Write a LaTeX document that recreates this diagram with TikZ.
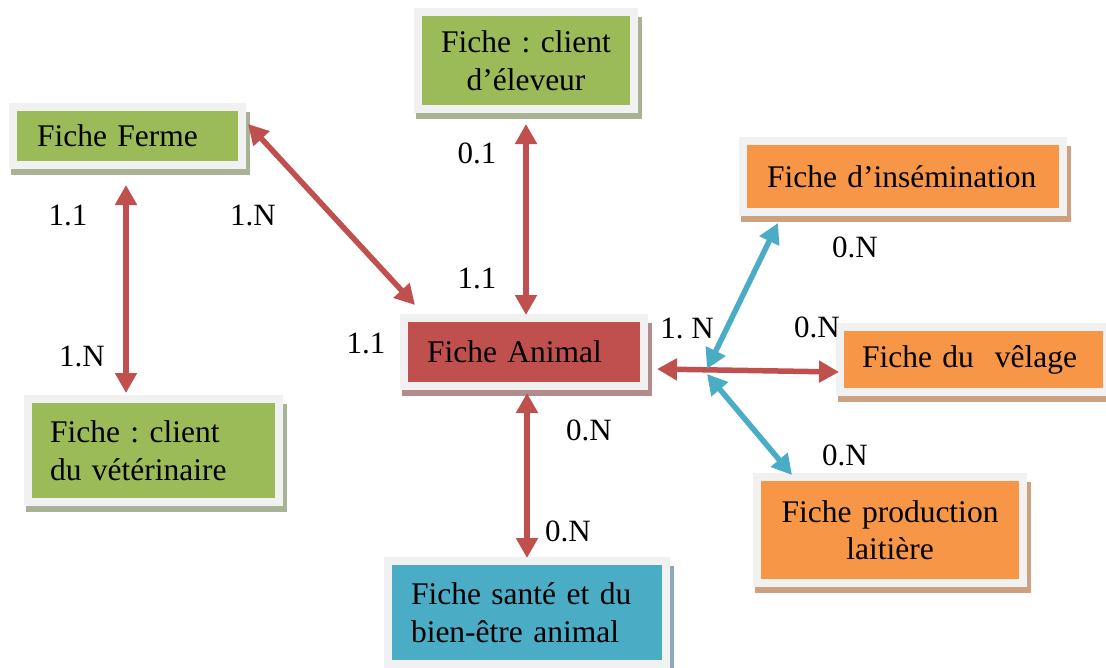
\documentclass[tikz,border=0pt]{standalone}
\usepackage{fontspec}
\setmainfont{Liberation Serif}
\usetikzlibrary{arrows.meta,backgrounds,calc}
\definecolor{cgreen}{HTML}{9BBB59}
\definecolor{cred}{HTML}{C0504D}
\definecolor{corange}{HTML}{F79646}
\definecolor{cblue}{HTML}{4BACC6}
\definecolor{cframe}{HTML}{F1F1F1}
\definecolor{gshadow}{HTML}{A8B295}
\definecolor{rshadow}{HTML}{B48B8B}
\definecolor{oshadow}{HTML}{CDA07F}
\definecolor{bshadow}{HTML}{8CA9B4}
\frenchspacing
\tikzset{
  box/.style={rectangle, draw=cframe, line width=8pt, inner sep=0pt, outer sep=0pt,
    font=\fontsize{31.5}{37.5}\selectfont, align=left},
  gbox/.style={box, fill=cgreen},
  rbox/.style={box, fill=cred},
  obox/.style={box, fill=corange},
  bbox/.style={box, fill=cblue},
  lab/.style={font=\fontsize{31}{37}\selectfont, inner sep=0pt},
  tip/.tip={Triangle[length=20pt,width=21pt]},
  rarrow/.style={draw=cred, line width=5.5pt, tip-tip},
  barrow/.style={draw=cblue, line width=5.5pt, tip-tip}
}
\begin{document}
\begin{tikzpicture}[x=1pt,y=-1pt]
\useasboundingbox (0,0) rectangle (1106,667);
% boxes
\node[gbox, minimum width=229pt, minimum height=58pt, text width=181pt] (ferme) at (127.5,136) {Fiche Ferme};
\node[gbox, minimum width=216pt, minimum height=97pt, text width=200pt, align=center] (eleveur) at (526,60.5) {Fiche : client\\d’éleveur};
\node[rbox, minimum width=240pt, minimum height=68pt, text width=194pt] (animal) at (524,352) {Fiche Animal};
\node[gbox, minimum width=251pt, minimum height=103pt, text width=207pt] (veto) at (153.5,450.5) {Fiche : client\\du vétérinaire};
\node[bbox, minimum width=278pt, minimum height=103pt, text width=232pt] (sante) at (527,612.5) {Fiche santé et du\\bien-être animal};
\node[obox, minimum width=320pt, minimum height=71pt, text width=272pt] (insem) at (903,176.5) {Fiche d’insémination};
\node[obox, minimum width=267pt, minimum height=65pt, text width=223pt] (velage) at (973.5,359.5) {Fiche du\ \ vêlage};
\node[obox, minimum width=266pt, minimum height=106pt, text width=250pt, align=center] (prod) at (890,530) {Fiche production\\laitière};
% shadows
\begin{scope}[on background layer]
\foreach \n/\c in {ferme/gshadow, eleveur/gshadow, veto/gshadow, animal/rshadow, sante/bshadow, insem/oshadow, velage/oshadow, prod/oshadow}
  \fill[\c] ($(\n.north west)+(-2,5)$) rectangle ($(\n.south east)+(8,10)$);
\end{scope}
% connector end points
\coordinate (fv1) at ($(ferme.south)+(-1.5,20)$);
\coordinate (fv2) at ($(fv1 |- veto.north)+(0,-6)$);
\coordinate (fa1) at ($(ferme.north east)+(6,17)$);
\coordinate (fa2) at ($(animal.north west)+(11,-13)$);
\coordinate (ea1) at ($(eleveur.south)+(0,15)$);
\coordinate (ea2) at ($(ea1 |- animal.north)+(0,-3)$);
\coordinate (as1) at ($(animal.south)+(3,7)$);
\coordinate (as2) at ($(as1 |- sante.north)+(0,-3)$);
\coordinate (av1) at ($(animal.east)+(13,17)$);
\coordinate (av2) at ($(velage.west)+(-1,12.5)$);
\coordinate (hub) at (707,369);
\coordinate (hub2) at (707,374);
\coordinate (ins) at ($(insem.south west)+(35,11)$);
\coordinate (pro) at ($(prod.north west)+(35,-2)$);
% connectors
\draw[rarrow] (fv1) -- (fv2);
\draw[rarrow] (fa1) -- (fa2);
\draw[rarrow] (ea1) -- (ea2);
\draw[rarrow] (as1) -- (as2);
\draw[rarrow] (av1) -- (av2);
\draw[barrow] (hub) -- (ins);
\draw[barrow] (hub2) -- (pro);
% labels
\node[lab] (l1) at (68,215) {1.1};
\node[lab] (l2) at (253,215) {1.N};
\node[lab] (l3) at (477,153) {0.1};
\node[lab] (l4) at (477,278) {1.1};
\node[lab] (l5) at (366,343) {1.1};
\node[lab] (l6) at (82,356) {1.N};
\node[lab] (l7) at (687,328) {1. N};
\node[lab] (l8) at (817,327) {0.N};
\node[lab] (l9) at (855,247) {0.N};
\node[lab] (l10) at (589,430) {0.N};
\node[lab] (l11) at (568,531) {0.N};
\node[lab] (l12) at (845,455) {0.N};
\end{tikzpicture}
\end{document}
